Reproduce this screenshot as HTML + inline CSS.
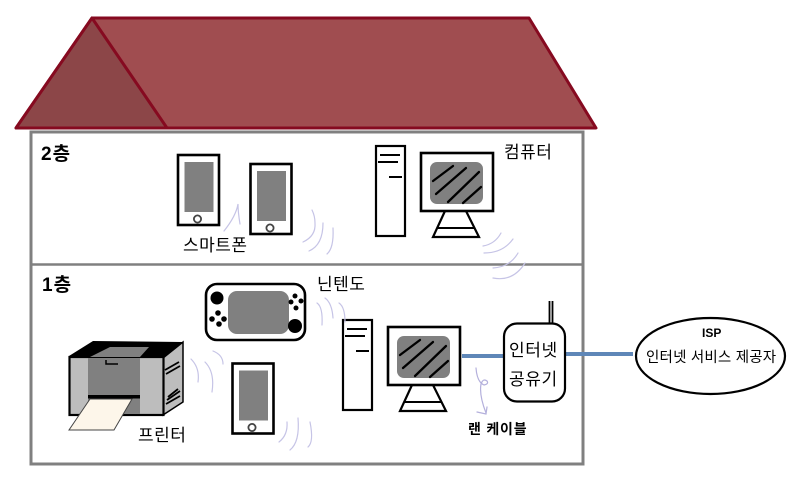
<!DOCTYPE html>
<html lang="ko">
<head>
<meta charset="utf-8">
<title>Home network</title>
<style>
html,body{margin:0;padding:0;background:#fff}
svg{display:block}
text{font-family:"Liberation Sans","Noto Sans CJK KR","NanumGothic",sans-serif;fill:#000}
.w{fill:none;stroke:#c6c4e6;stroke-width:1.2;stroke-linecap:round}
.l{stroke:#000;stroke-width:2;fill:none}
</style>
</head>
<body>
<svg width="800" height="483" viewBox="0 0 800 483" xmlns="http://www.w3.org/2000/svg">
<defs>
<g id="phone">
<rect x="0" y="0" width="41" height="70" fill="#fff" stroke="#000" stroke-width="2.600"/>
<rect x="6.500" y="7" width="29" height="50" fill="#808080"/>
<circle cx="19.500" cy="64" r="3.600" fill="#fff" stroke="#444" stroke-width="1.800"/>
</g>
<g id="pc">
<rect x="376" y="146" width="29" height="90" fill="#fff" stroke="#000" stroke-width="2.200"/>
<path d="M380 155H400M378 162H398M389 177H402" class="l"/>
<path d="M445 211L433 237H479L466 211" fill="#fff" stroke="#000" stroke-width="2.200"/>
<path d="M437 228H475" class="l"/>
<rect x="421" y="153" width="72" height="58" fill="#fff" stroke="#000" stroke-width="2.600"/>
<rect x="430" y="162" width="53" height="42" rx="7" fill="#808080"/>
<path d="M433 181L453 166M436 194L466 168M448 202L479 172M463 203L481 187" stroke="#000" stroke-width="2.300" stroke-linecap="round" fill="none"/>
</g>
</defs>

<!-- roof -->
<polygon points="92,18 529,18 596,128 16,128" fill="#a04d50" stroke="#860a20" stroke-width="3" stroke-linejoin="round"/>
<polygon points="92,18 167,128 16,128" fill="#8c4648" stroke="#860a20" stroke-width="3" stroke-linejoin="round"/>

<!-- house -->
<rect x="31" y="132" width="552" height="332" fill="#fff" stroke="#808080" stroke-width="3"/>
<line x1="31" y1="264.500" x2="583" y2="264.500" stroke="#808080" stroke-width="2.500"/>

<text x="41" y="160" font-size="19" font-weight="700" letter-spacing="1">2층</text>
<text x="42" y="291" font-size="19" font-weight="700" letter-spacing="1">1층</text>

<!-- phones -->
<use href="#phone" x="178" y="155"/>
<use href="#phone" x="250.500" y="164"/>
<use href="#phone" x="232.500" y="363.500"/>

<text x="183" y="251" font-size="17" letter-spacing=".5">스마트폰</text>
<text x="504" y="158" font-size="17" letter-spacing=".5">컴퓨터</text>
<text x="317" y="290" font-size="17" letter-spacing=".5">닌텐도</text>
<text x="138" y="441" font-size="17" letter-spacing=".5">프린터</text>
<text x="468" y="434" font-size="14" font-weight="700" letter-spacing=".8">랜 케이블</text>

<!-- computers -->
<use href="#pc"/>
<use href="#pc" x="-33" y="174"/>

<!-- console -->
<rect x="206" y="284" width="99" height="56" rx="11" fill="#fff" stroke="#000" stroke-width="2.600"/>
<rect x="228" y="291" width="61" height="43" rx="9" fill="#808080"/>
<circle cx="217" cy="298" r="6.500" fill="#000"/>
<circle cx="295" cy="326" r="7" fill="#000"/>
<circle cx="218" cy="313" r="2.800" fill="#000"/>
<circle cx="212" cy="319" r="2.800" fill="#000"/>
<circle cx="224" cy="319" r="2.800" fill="#000"/>
<circle cx="219" cy="324" r="2.800" fill="#000"/>
<circle cx="295" cy="296" r="2.500" fill="#000"/>
<circle cx="291" cy="302" r="2.500" fill="#000"/>
<circle cx="301" cy="301" r="2.500" fill="#000"/>
<circle cx="296" cy="308" r="2.500" fill="#000"/>

<!-- printer -->
<polygon points="69,356 93,341 183,342 163,358" fill="#000"/>
<polygon points="163,358 183,342 183,402 163,415" fill="#bdbdbd" stroke="#000" stroke-width="1.500"/>
<rect x="69.500" y="357" width="94" height="58" fill="#bdbdbd" stroke="#000" stroke-width="2.200"/>
<rect x="88" y="358" width="52" height="56" fill="#808080"/>
<polygon points="90,357 110,347 149,347 140,357" fill="#808080"/>
<path d="M106,360V364H118" stroke="#000" stroke-width="1.500" fill="none"/>
<rect x="88" y="395" width="52" height="3.500" fill="#000"/>
<path d="M165,370L179,362M166,374L180,366M167,400L180,391M166,404L180,396M168,397L178,389" stroke="#000" stroke-width="1.800"/>
<polygon points="69,430 114,430 132,399 90,399" fill="#fdf6ea" stroke="#444" stroke-width="1"/>

<!-- cables -->
<line x1="462" y1="356" x2="503" y2="356" stroke="#5f87b8" stroke-width="4"/>
<line x1="566" y1="354" x2="633" y2="354" stroke="#5f87b8" stroke-width="4"/>

<!-- router -->
<path d="M549.500 323V301M552.500 323V301" stroke="#000" stroke-width="1.800"/>
<rect x="504" y="323.500" width="61" height="78" rx="13" fill="#fff" stroke="#000" stroke-width="2.200"/>
<text x="509" y="356" font-size="17" letter-spacing=".6">인터넷</text>
<text x="509" y="385" font-size="17" letter-spacing=".6">공유기</text>

<!-- ISP -->
<ellipse cx="710.500" cy="356" rx="74.500" ry="38" fill="#fff" stroke="#000" stroke-width="2.200"/>
<text x="702" y="337" font-size="12" font-weight="700">ISP</text>
<text x="646" y="362" font-size="14.500" letter-spacing=".2">인터넷 서비스 제공자</text>

<!-- hand-drawn wireless marks -->
<path class="w" d="M224 231Q236 216 238 204Q238 212 240 224"/>
<path class="w" d="M303 242Q316 236 315 223Q315 216 312 210"/>
<path class="w" d="M309 251Q323 245 323 223"/>
<path class="w" d="M327 254Q334 248 333 228"/>
<path class="w" d="M483 246Q495 244 501 233"/>
<path class="w" d="M484 253Q503 253 513 239"/>
<path class="w" d="M493 268Q510 267 518 253"/>
<path class="w" d="M493 278Q513 282 525 263"/>
<path class="w" d="M191 359Q200 368 198 382"/>
<path class="w" d="M205 362Q215 372 212 392"/>
<path class="w" d="M213 351Q223 355 223 364"/>
<path class="w" d="M317 303Q323 307 322 325"/>
<path class="w" d="M325 298Q332 303 333 318"/>
<path class="w" d="M339 303Q345 307 345 322"/>
<path class="w" d="M279 442Q288 435 287 422"/>
<path class="w" d="M290 450Q300 442 298 418"/>
<path class="w" d="M308 447Q314 442 310 422"/>
<path class="w" style="stroke:#b4b0dc" d="M476 368Q477 382 484 385Q489 384 487 381Q483 378 481 384Q479 395 486 413M477 412L486 414L487 407"/>
</svg>
</body>
</html>
